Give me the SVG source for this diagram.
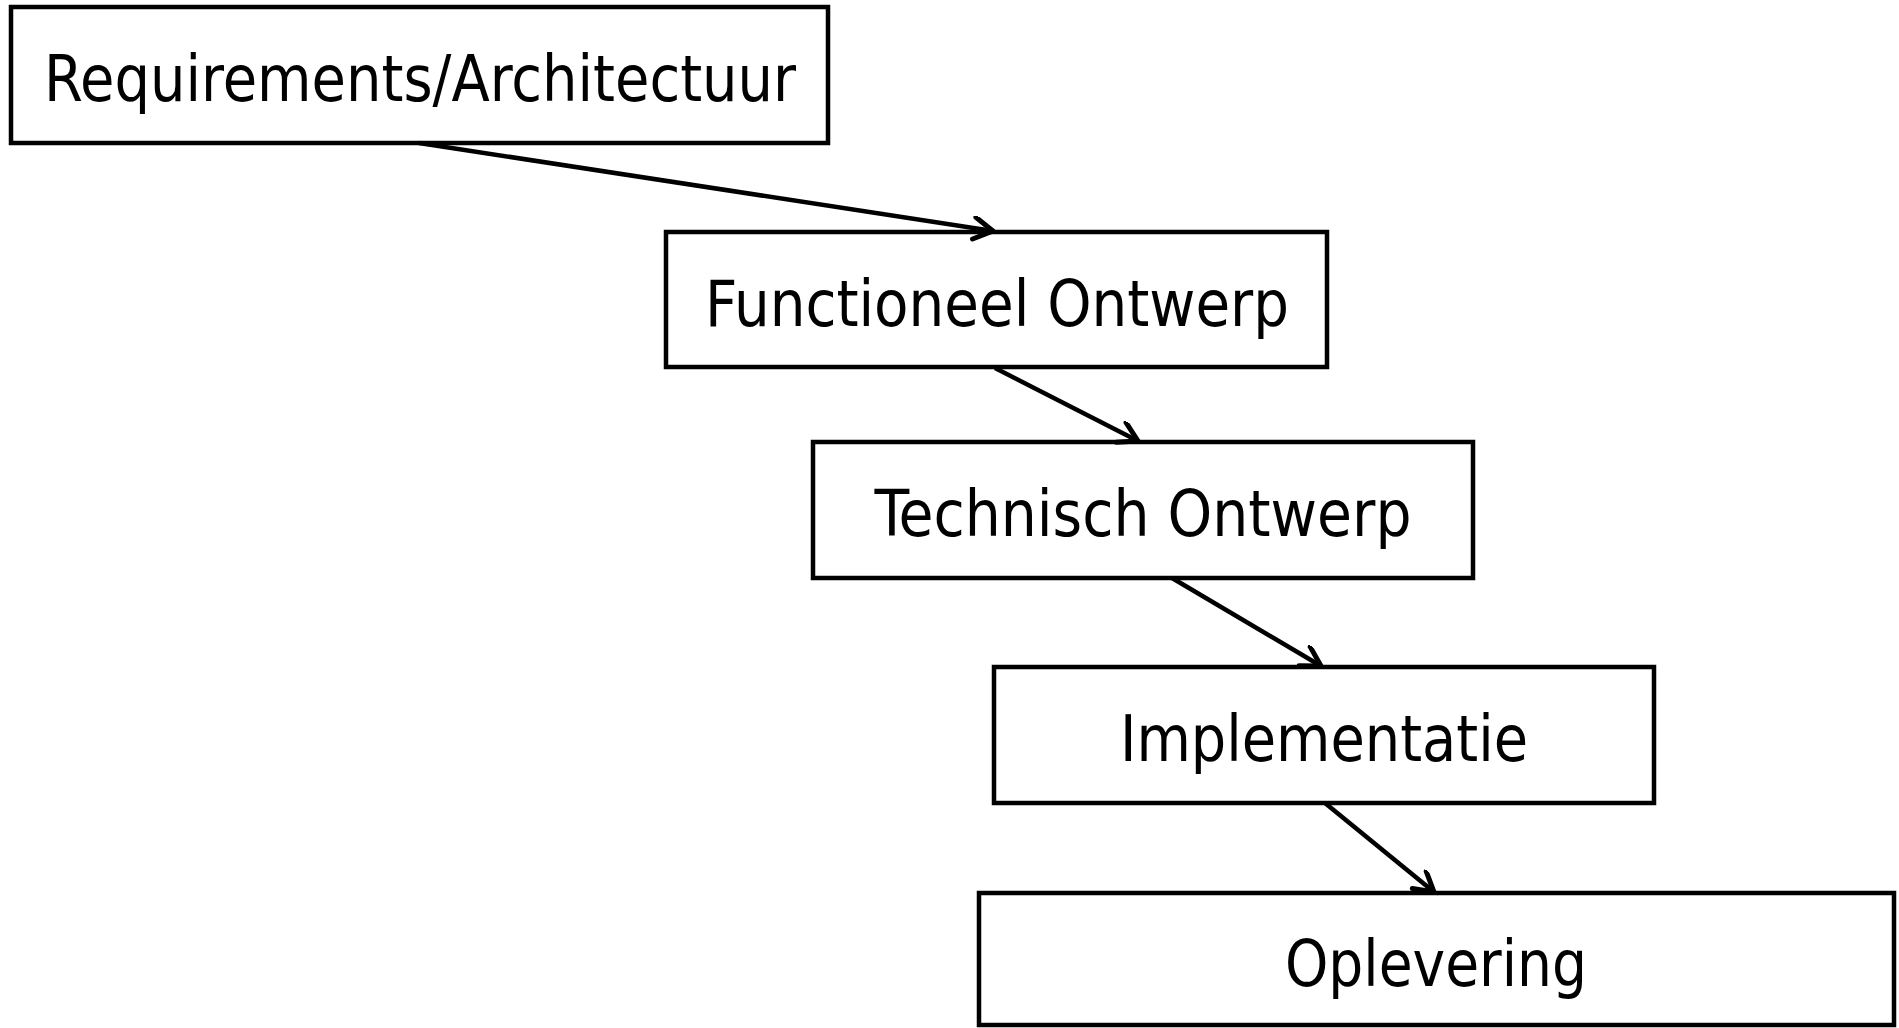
<svg xmlns="http://www.w3.org/2000/svg" width="1899" height="1028" viewBox="0 0 1899 1028">
  <style>
    .box { fill: #ffffff; stroke: #000000; stroke-width: 4.5; }
    .label { font-family: "DejaVu Sans Condensed", "DejaVu Sans", sans-serif; font-size: 64px; fill: #000000; text-anchor: middle; }
    .edge { fill: none; stroke: #000000; stroke-width: 4.5; }
  </style>
  <defs>
    <marker id="arrow" markerUnits="userSpaceOnUse" markerWidth="30" markerHeight="30" refX="22" refY="12" orient="auto">
      <path d="M3,1 L22,12 L3,23" fill="none" stroke="#000000" stroke-width="5" stroke-linecap="round" stroke-linejoin="miter"/>
    </marker>
  </defs>
  <rect width="1899" height="1028" fill="#ffffff"/>

  <g id="node-requirements">
    <rect class="box" x="11" y="7" width="817" height="136"/>
    <text class="label" x="420" y="101" textLength="752" lengthAdjust="spacingAndGlyphs">Requirements/Architectuur</text>
  </g>
  <g id="node-functioneel">
    <rect class="box" x="666" y="232" width="661" height="135"/>
    <text class="label" x="997" y="326" textLength="584" lengthAdjust="spacingAndGlyphs">Functioneel Ontwerp</text>
  </g>
  <g id="node-technisch">
    <rect class="box" x="813" y="442" width="660" height="136"/>
    <text class="label" x="1143" y="536" textLength="537" lengthAdjust="spacingAndGlyphs">Technisch Ontwerp</text>
  </g>
  <g id="node-implementatie">
    <rect class="box" x="994" y="667" width="660" height="136"/>
    <text class="label" x="1324" y="761" textLength="408" lengthAdjust="spacingAndGlyphs">Implementatie</text>
  </g>
  <g id="node-oplevering">
    <rect class="box" x="979" y="893" width="915" height="132"/>
    <text class="label" x="1436" y="986" textLength="302" lengthAdjust="spacingAndGlyphs">Oplevering</text>
  </g>

  <g id="connectors">
    <line class="edge" x1="419" y1="143" x2="993" y2="231" marker-end="url(#arrow)"/>
    <line class="edge" x1="995" y1="368" x2="1138" y2="441" marker-end="url(#arrow)"/>
    <line class="edge" x1="1172" y1="578" x2="1321" y2="666" marker-end="url(#arrow)"/>
    <line class="edge" x1="1325" y1="803" x2="1434" y2="892" marker-end="url(#arrow)"/>
  </g>
</svg>
